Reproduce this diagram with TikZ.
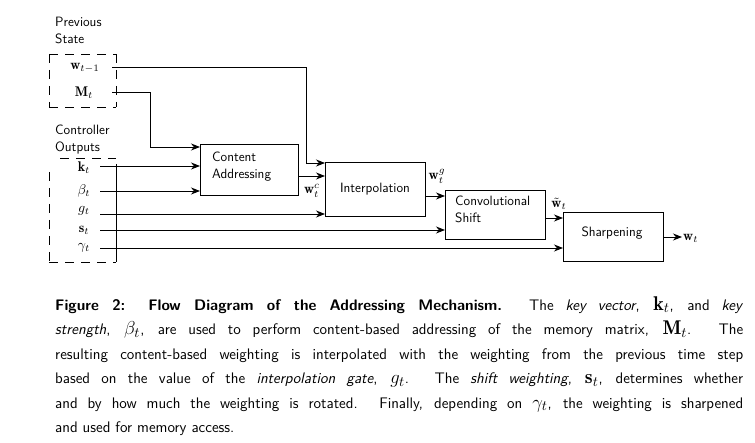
\documentclass[tikz,border=0pt]{standalone}
\usepackage{amsmath,amssymb}
\usepackage{graphicx}
\usepackage{fontspec}
\usetikzlibrary{arrows.meta}
\newcommand{\mth}[1]{\scalebox{1.4}{$#1$}}
\newcommand{\cmth}[1]{\scalebox{1.3}{$#1$}}
\begin{document}
\begin{tikzpicture}[x=1pt,y=-1pt,
  arr/.style={-{Stealth[length=9pt,width=7pt]},line width=0.9pt},
  ln/.style={line width=0.9pt},
  dsh/.style={line width=0.9pt,dash pattern=on 9pt off 7pt},
  lab/.style={font=\sffamily\fontsize{13.5}{17}\selectfont,align=left,anchor=north west,inner sep=0pt},
  math/.style={inner sep=0pt}]
\useasboundingbox (0,0) rectangle (755,443);
% boxes
\draw[line width=0.8pt] (200,144) rectangle (298,195);
\node[lab] (ca) at (212,152) {Content\\Addressing};
\draw[line width=0.8pt] (325,162) rectangle (425,216);
\node[lab,anchor=center] (ip) at (375,189) {Interpolation};
\draw[line width=0.8pt] (445,190) rectangle (545,239);
\node[lab] (cs) at (455,196) {Convolutional\\Shift};
\draw[line width=0.8pt] (563,212) rectangle (663,261);
\node[lab,anchor=center] (sh) at (612,233) {Sharpening};
% labels
\node[lab] (ps) at (55,17) {Previous\\State};
\node[lab] (co) at (55,125) {Controller\\Outputs};
\node[math] (w1) at (85,68) {\mth{\mathbf{w}_{t-1}}};
\node[math] (M) at (84,93) {\mth{\mathbf{M}_t}};
\node[math] (k) at (84,168) {\mth{\mathbf{k}_t}};
\node[math] (b) at (84,191) {\mth{\beta_t}};
\node[math] (g) at (84,211) {\mth{g_t}};
\node[math] (s) at (84,230) {\mth{\mathbf{s}_t}};
\node[math] (ga) at (84,248) {\mth{\gamma_t}};
% dashed frames
\draw[dsh] (49,54) -- (116,54);
\draw[dsh] (49,54) -- (49,107);
\draw[dsh] (49,107) -- (116,107);
\draw[dsh] (116,54) -- (116,107);
\draw[dsh] (60,158) -- (116,158);
\draw[dsh] (49,172) -- (49,262);
\draw[dsh] (49,262) -- (116,262);
\draw[ln] (116,164) -- (116,262);
% inputs
\draw[arr] (112,67) -- (306,67) -- (306,163) -- (325,163);
\draw[arr] (112,92) -- (150,92) -- (150,147) -- (200,147);
\draw[arr] (100,166) -- (200,166);
\draw[arr] (100,191) -- (200,191);
\draw[arr] (100,214) -- (325,214);
\draw[arr] (100,230) -- (445,230);
\draw[arr] (100,248) -- (563,248);
% internal
\draw[arr] (298,176) -- (325,176);
\node[math] (wc) at (312,191) {\mth{\mathbf{w}_t^c}};
\draw[arr] (425,196) -- (445,196);
\node[math] (wg) at (437,176) {\mth{\mathbf{w}_t^g}};
\draw[arr] (545,218) -- (563,218);
\node[math] (wt) at (559,204) {\mth{\tilde{\mathbf{w}}_t}};
\draw[arr] (663,237) -- (682,237);
\node[math,anchor=west] (wo) at (683,238) {\mth{\mathbf{w}_t}};
% caption
\node[anchor=north west,inner sep=0pt,text width=688pt,align=justify,
  font=\sffamily\fontsize{15.3}{24.5}\selectfont] (cap) at (55,296) {%
\textbf{Figure 2: Flow Diagram of the Addressing Mechanism.} The \textit{key vector}, \cmth{\mathbf{k}_t}, and \textit{key}\linebreak
\textit{strength}, \cmth{\beta_t}, are used to perform content-based addressing of the memory matrix, \cmth{\mathbf{M}_t}. The\linebreak
resulting content-based weighting is interpolated with the weighting from the previous time step\linebreak
based on the value of the \textit{interpolation gate}, \cmth{g_t}. The \textit{shift weighting}, \cmth{\mathbf{s}_t}, determines whether\linebreak
and by how much the weighting is rotated. Finally, depending on \cmth{\gamma_t}, the weighting is sharpened\linebreak
and used for memory access.};
\end{tikzpicture}
\end{document}
